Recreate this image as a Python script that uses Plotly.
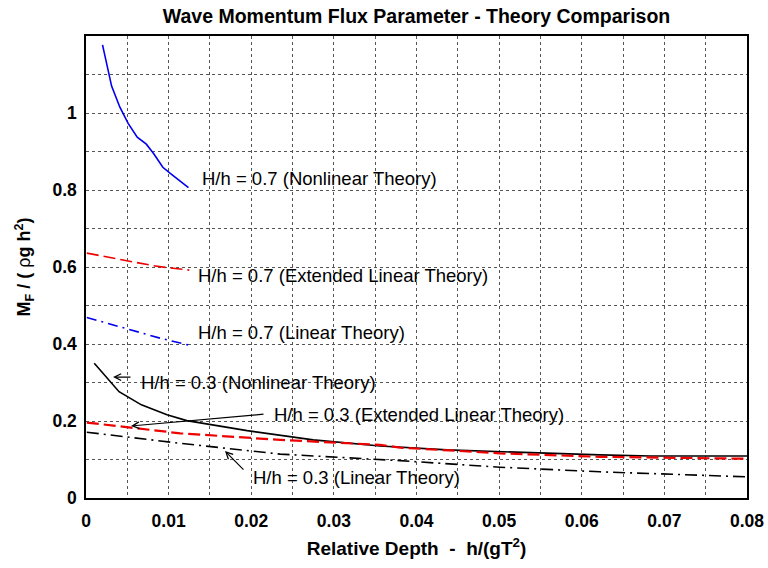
import plotly.graph_objects as go

# H/h = 0.7 nonlinear theory (blue solid)
x_nl07 = [0.0020, 0.0031, 0.0041, 0.0051, 0.0062, 0.0073, 0.0082, 0.0093, 0.0102, 0.0124]
y_nl07 = [1.177, 1.070, 1.015, 0.973, 0.937, 0.919, 0.894, 0.859, 0.843, 0.806]

# H/h = 0.7 extended linear theory (red dashed)
x_el07 = [0.0001, 0.002, 0.004, 0.006, 0.008, 0.010, 0.0125]
y_el07 = [0.636, 0.628, 0.619, 0.611, 0.604, 0.598, 0.592]

# H/h = 0.7 linear theory (blue dash-dot)
x_l07 = [0.0001, 0.003, 0.006, 0.009, 0.0125]
y_l07 = [0.469, 0.452, 0.433, 0.415, 0.397]

# H/h = 0.3 nonlinear theory (black solid)
x_nl03 = [0.0010, 0.0040, 0.0067, 0.0098, 0.0122, 0.0195, 0.0275, 0.0356, 0.0437, 0.0501, 0.0622, 0.0683, 0.0800]
y_nl03 = [0.350, 0.276, 0.242, 0.216, 0.201, 0.175, 0.151, 0.135, 0.125, 0.120, 0.112, 0.109, 0.109]

# H/h = 0.3 extended linear theory (red dashed)
x_el03 = [0.0001, 0.0114, 0.0235, 0.0356, 0.0380, 0.0501, 0.0622, 0.0800]
y_el03 = [0.196, 0.168, 0.151, 0.138, 0.131, 0.116, 0.107, 0.102]

# H/h = 0.3 linear theory (black dash-dot)
x_l03 = [0.0001, 0.0114, 0.0235, 0.0356, 0.0380, 0.0501, 0.0622, 0.0800]
y_l03 = [0.171, 0.142, 0.114, 0.099, 0.097, 0.080, 0.068, 0.055]

x_tickvals = [0, 0.01, 0.02, 0.03, 0.04, 0.05, 0.06, 0.07, 0.08]
x_ticktext = ["0", "0.01", "0.02", "0.03", "0.04", "0.05", "0.06", "0.07", "0.08"]
y_tickvals = [0, 0.2, 0.4, 0.6, 0.8, 1.0]
y_ticktext = ["0", "0.2", "0.4", "0.6", "0.8", "1"]

labels = [
    "H/h = 0.7 (Nonlinear Theory)",
    "H/h = 0.7 (Extended Linear Theory)",
    "H/h = 0.7 (Linear Theory)",
    "H/h = 0.3 (Nonlinear Theory)",
    "H/h = 0.3 (Extended Linear Theory)",
    "H/h = 0.3 (Linear Theory)",
]
label_x = [0.01404, 0.01356, 0.01356, 0.00666, 0.02275, 0.02021]
label_y = [0.831, 0.577, 0.429, 0.299, 0.216, 0.0545]

# arrows: (head_x, head_y, tail_x, tail_y)
arrows = [
    (0.00327, 0.314, 0.00557, 0.314),
    (0.00545, 0.187, 0.02166, 0.218),
    (0.01682, 0.122, 0.01924, 0.070),
]

FONT = "Liberation Sans, Arial, Helvetica, sans-serif"

fig = go.Figure()
fig.add_trace(go.Scatter(x=x_nl07, y=y_nl07, mode="lines", line=dict(color="#0000ee", width=1.6)))
fig.add_trace(go.Scatter(x=x_el07, y=y_el07, mode="lines", line=dict(color="#ee0000", width=1.6, dash="12px,5px")))
fig.add_trace(go.Scatter(x=x_l07, y=y_l07, mode="lines", line=dict(color="#0000ee", width=1.6, dash="10px,5px,2px,5px")))
fig.add_trace(go.Scatter(x=x_nl03, y=y_nl03, mode="lines", line=dict(color="black", width=1.6)))
fig.add_trace(go.Scatter(x=x_el03, y=y_el03, mode="lines", line=dict(color="#ee0000", width=2.2, dash="12px,5px")))
fig.add_trace(go.Scatter(x=x_l03, y=y_l03, mode="lines", line=dict(color="black", width=1.6, dash="12px,5px,2px,5px")))

for t, lx, ly in zip(labels, label_x, label_y):
    fig.add_annotation(x=lx, y=ly, text=t, showarrow=False, xanchor="left", yanchor="middle",
                       xshift=-2, font=dict(family=FONT, size=18.5, color="black"))

for hx, hy, tx, ty in arrows:
    fig.add_annotation(x=hx, y=hy, ax=tx, ay=ty, axref="x", ayref="y", text="",
                       showarrow=True, arrowhead=5, arrowsize=1.1, arrowwidth=1.2, arrowcolor="black")

fig.update_layout(
    width=768, height=568,
    margin=dict(l=86, r=21, t=36, b=70),
    paper_bgcolor="white", plot_bgcolor="white",
    showlegend=False,
    title=dict(text="<b>Wave Momentum Flux Parameter - Theory Comparison</b>",
               x=((86 + 747) / 2) / 768, xanchor="center", y=1 - 16 / 568, yanchor="middle",
               font=dict(family=FONT, size=19.5, color="black")),
    font=dict(family=FONT, color="black"),
)
fig.update_xaxes(
    range=[0, 0.08], tickmode="array", tickvals=x_tickvals,
    ticktext=["<b>%s</b>" % t for t in x_ticktext], tickangle=0, automargin=False,
    ticklabelstandoff=6,
    showline=True, linecolor="black", linewidth=1.5, mirror=True,
    showgrid=True, gridcolor="#555555", griddash="dot", gridwidth=1,
    minor=dict(dtick=0.005, tick0=0, showgrid=True, gridcolor="#555555", griddash="dot", gridwidth=1),
    zeroline=False, ticks="",
    tickfont=dict(family=FONT, size=17.5, color="black"),
    title=dict(text="<b>Relative Depth  -  h/(gT<sup>2</sup>)</b>", standoff=12,
               font=dict(family=FONT, size=19, color="black")),
)
fig.update_yaxes(
    range=[0, 1.2], tickmode="array", tickvals=y_tickvals,
    ticktext=["<b>%s</b>" % t for t in y_ticktext], automargin=False,
    ticklabelstandoff=4,
    showline=True, linecolor="black", linewidth=1.5, mirror=True,
    showgrid=True, gridcolor="#555555", griddash="dot", gridwidth=1,
    minor=dict(dtick=0.1, tick0=0, showgrid=True, gridcolor="#555555", griddash="dot", gridwidth=1),
    zeroline=False, ticks="",
    tickfont=dict(family=FONT, size=17.5, color="black"),
    title=dict(text="<b>M<sub>F</sub> / ( </b>ρ<b>g h<sup>2</sup>)</b>", standoff=17,
               font=dict(family=FONT, size=18, color="black")),
)

fig.write_html("out.html", config={"displayModeBar": False},
               post_script="document.body.style.margin='0px';")
